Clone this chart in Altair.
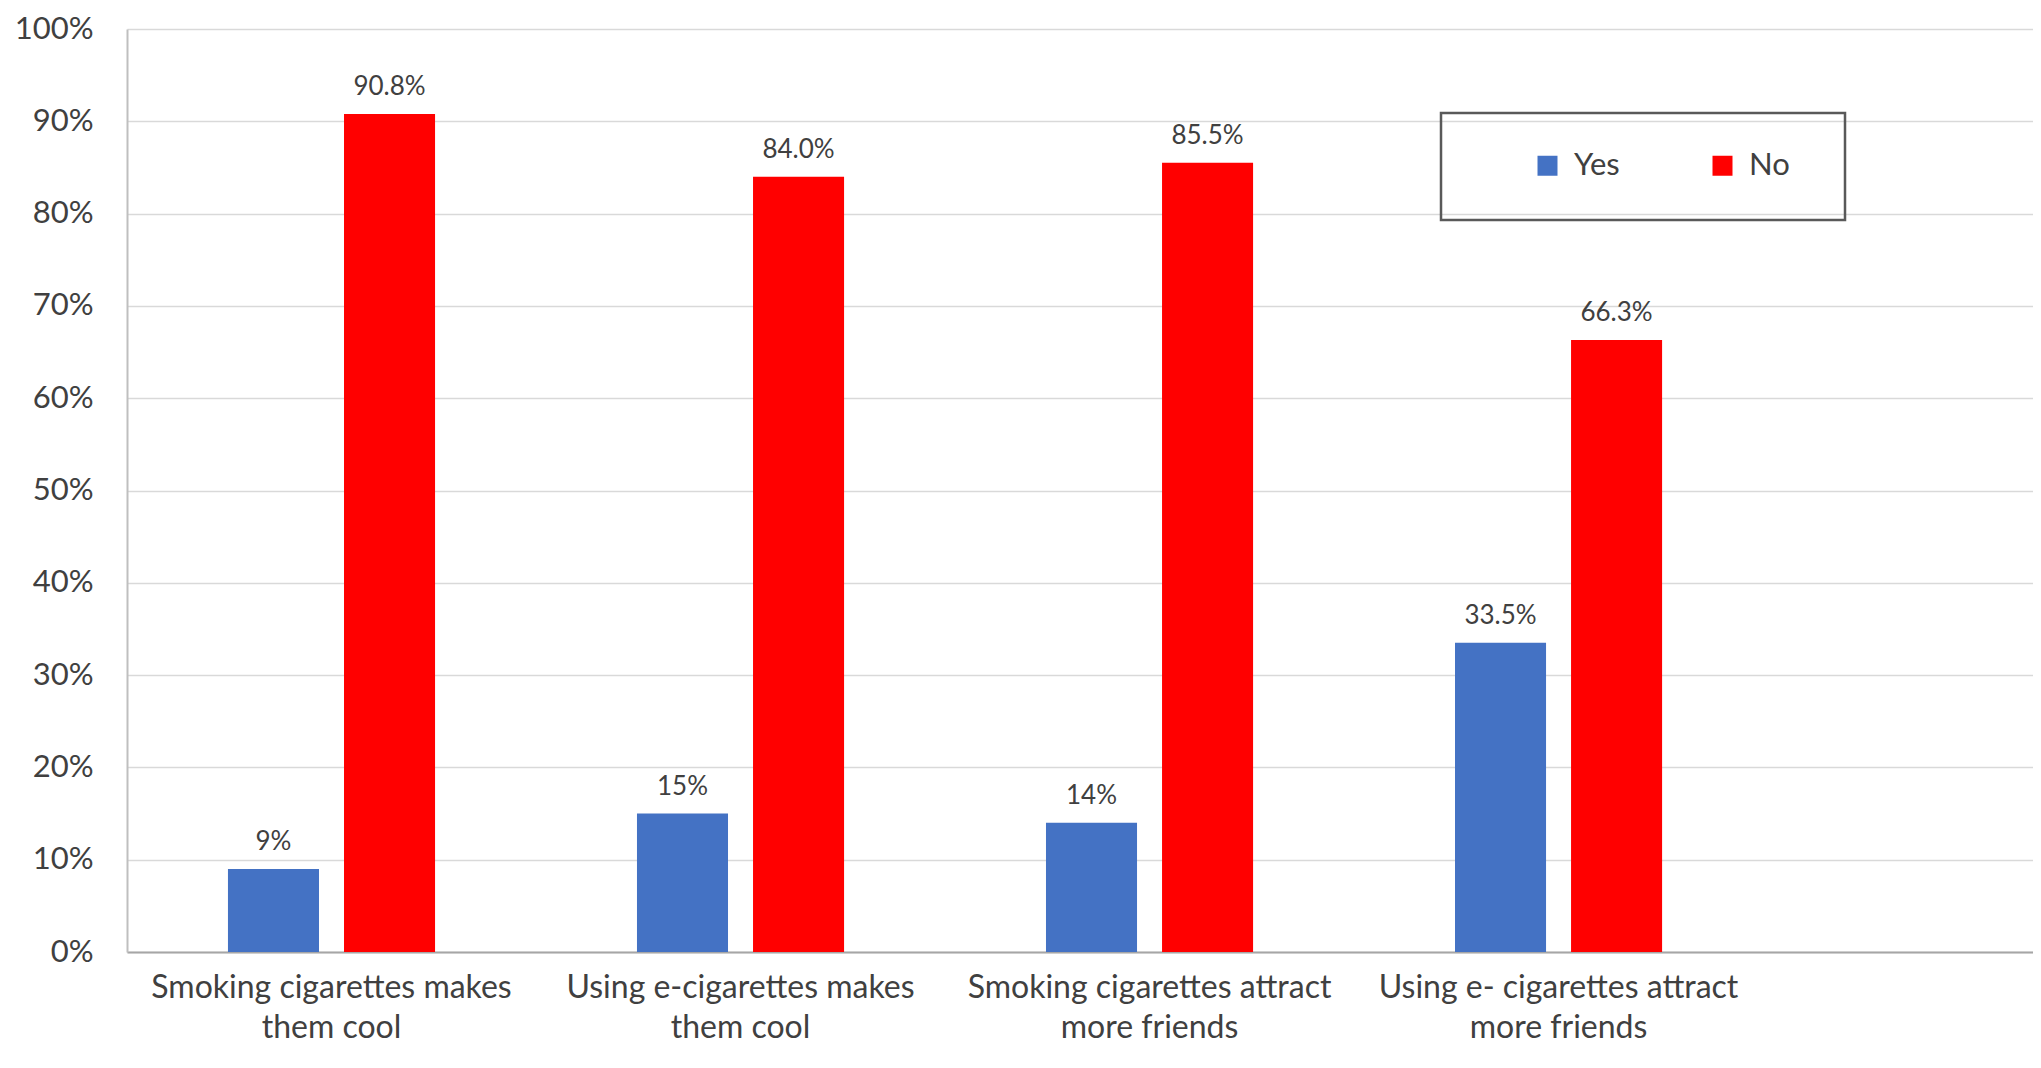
import altair as alt
import pandas as pd

FONT = "Lato"

categories = [
    "Smoking cigarettes makes\nthem cool",
    "Using e-cigarettes makes\nthem cool",
    "Smoking cigarettes attract\nmore friends",
    "Using e- cigarettes attract\nmore friends",
]
series = ["Yes", "No"]
yes_values = [9, 15, 14, 33.5]
no_values = [90.8, 84.0, 85.5, 66.3]
yes_labels = ["9%", "15%", "14%", "33.5%"]
no_labels = ["90.8%", "84.0%", "85.5%", "66.3%"]
colors = ["#4472C4", "#FF0000"]
y_ticks = [0, 10, 20, 30, 40, 50, 60, 70, 80, 90, 100]

rows = []
for i, c in enumerate(categories):
    rows.append({"cat": c, "resp": "Yes", "val": yes_values[i], "lab": yes_labels[i]})
    rows.append({"cat": c, "resp": "No", "val": no_values[i], "lab": no_labels[i]})
df = pd.DataFrame(rows)

x_enc = alt.X(
    "cat:N",
    sort=categories,
    scale=alt.Scale(paddingInner=0, paddingOuter=0.33, align=0),
    axis=alt.Axis(
        title=None,
        labelAngle=0,
        labelExpr="split(datum.label, '\\n')",
        labelFontSize=32,
        labelFont=FONT,
        labelColor="#404040",
        labelLimit=800,
        labelPadding=20,
        labelLineHeight=40,
        labelBaseline="top",
        ticks=False,
        grid=False,
        domainColor="#A6A6A6",
        domainWidth=2,
    ),
)
xoff_enc = alt.XOffset(
    "resp:N", sort=series, scale=alt.Scale(paddingInner=0.2155, paddingOuter=0.87)
)
y_enc = alt.Y(
    "val:Q",
    scale=alt.Scale(domain=[0, 100], nice=False),
    axis=alt.Axis(
        title=None,
        values=y_ticks,
        labelExpr="datum.value + '%'",
        labelFontSize=31,
        labelFont=FONT,
        labelColor="#404040",
        labelPadding=34,
        ticks=False,
        gridColor="#D9D9D9",
        gridWidth=1.5,
        domainColor="#BFBFBF",
        domainWidth=2,
    ),
)

base = alt.Chart(df)

bars = base.mark_bar(strokeWidth=0).encode(
    x=x_enc,
    xOffset=xoff_enc,
    y=y_enc,
    color=alt.Color(
        "resp:N",
        sort=series,
        scale=alt.Scale(domain=series, range=colors),
        legend=alt.Legend(
            title=None,
            orient="none",
            legendX=1405,
            legendY=121,
            direction="horizontal",
            symbolType="square",
            symbolSize=400,
            symbolStrokeWidth=0,
            labelFontSize=31,
            labelFont=FONT,
            labelColor="#404040",
            labelOffset=11,
            columnPadding=87,
            padding=0,
        ),
    ),
)

texts = base.mark_text(
    baseline="bottom", dy=-14, fontSize=26, font=FONT, color="#404040"
).encode(x=x_enc, xOffset=xoff_enc, y=y_enc, text="lab:N")

box = alt.Chart(alt.Data(values=[{}])).mark_rect(
    fillOpacity=0, stroke="#595959", strokeWidth=2.5
).encode(
    x=alt.value(1314), x2=alt.value(1718), y=alt.value(84), y2=alt.value(191)
)

chart = (
    alt.layer(bars, texts, box)
    .properties(
        width=1906,
        height=923,
        padding={"left": 119, "top": 21, "right": 0, "bottom": 100},
        autosize=alt.AutoSizeParams(type="none"),
        background="white",
    )
    .configure_view(stroke=None)
)

chart.save("out.html", embed_options={"renderer": "svg", "actions": False})
